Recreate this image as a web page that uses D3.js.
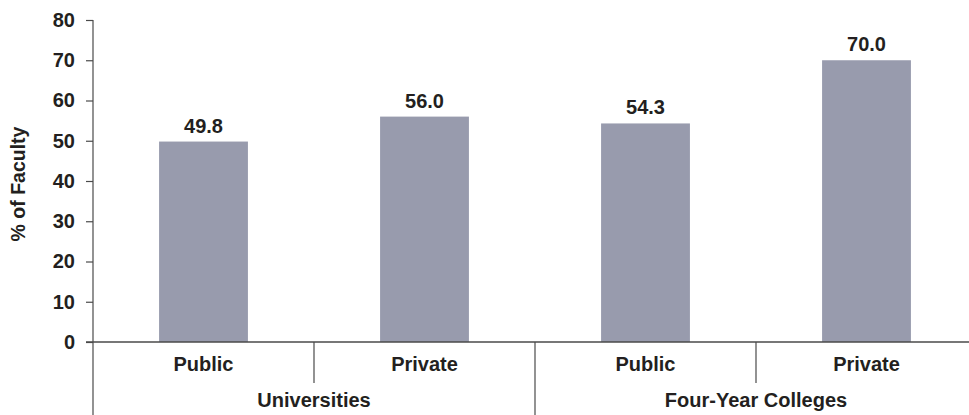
<!DOCTYPE html>
<html>
<head>
<meta charset="utf-8">
<script src="https://cdn.jsdelivr.net/npm/d3@7"></script>
<style>
  html, body { margin: 0; padding: 0; background: #fff; }
  svg { display: block; }
  text { font-family: "Liberation Sans", Arial, sans-serif; font-weight: bold; fill: #231f20; }
</style>
</head>
<body>
<svg id="chart" width="969" height="415"></svg>
<script>
const categories = ["Public", "Private", "Public", "Private"];
const groups = ["Universities", "Four-Year Colleges"];
const groupOf = [0, 0, 1, 1];
const values = [49.8, 56.0, 54.3, 70.0];
const yTicks = [0, 10, 20, 30, 40, 50, 60, 70, 80];
const yTitle = "% of Faculty";

const svg = d3.select("#chart");
const x0 = 93, yTop = 20, yBottom = 342, band = 221;
const fs = 20;

const keys = categories.map((c, i) => i);
const x = d3.scaleBand().domain(keys).range([x0, x0 + band * keys.length]).padding(0);
const y = d3.scaleLinear().domain([0, 80]).range([yBottom, yTop]);

const axisColor = "#4a4a4a";

// bars
const barW = x.bandwidth() * 0.402;
svg.append("g").selectAll("rect").data(values).join("rect")
  .attr("x", (d, i) => x(i) + x.bandwidth() / 2 - barW / 2)
  .attr("y", d => y(d))
  .attr("width", barW)
  .attr("height", d => y(0) - y(d))
  .attr("fill", "#989bad");

// value labels
svg.append("g").selectAll("text").data(values).join("text")
  .attr("x", (d, i) => x(i) + x.bandwidth() / 2)
  .attr("y", d => y(d) - 9)
  .attr("text-anchor", "middle")
  .attr("font-size", fs)
  .text(d => d.toFixed(1));

// y axis
const yAxis = d3.axisLeft(y).tickValues(yTicks).tickSize(7).tickPadding(11).tickFormat(d3.format("d"));
const gy = svg.append("g").attr("transform", `translate(${x0},0)`).call(yAxis);
gy.select(".domain").remove();
gy.selectAll(".tick line").attr("stroke", axisColor).attr("stroke-width", 1.2);
gy.selectAll(".tick text").attr("font-size", fs).attr("font-family", "Liberation Sans, Arial, sans-serif")
  .attr("font-weight", "bold").attr("fill", "#231f20");
svg.append("line").attr("x1", x0).attr("x2", x0).attr("y1", yTop).attr("y2", 415)
  .attr("stroke", axisColor).attr("stroke-width", 1.2);

// x axis line
svg.append("line").attr("x1", 86).attr("x2", 969).attr("y1", y(0)).attr("y2", y(0))
  .attr("stroke", axisColor).attr("stroke-width", 1.5);

// category labels
svg.append("g").selectAll("text").data(categories).join("text")
  .attr("x", (d, i) => x(i) + x.bandwidth() / 2)
  .attr("y", y(0) + 29)
  .attr("text-anchor", "middle")
  .attr("font-size", fs)
  .text(d => d);

// separators inside groups (short) and between groups (long)
keys.forEach(i => {
  if (i === 0) return;
  const newGroup = groupOf[i] !== groupOf[i - 1];
  svg.append("line")
    .attr("x1", x(i)).attr("x2", x(i))
    .attr("y1", y(0)).attr("y2", newGroup ? 415 : 383)
    .attr("stroke", axisColor).attr("stroke-width", 1.2);
});

// group labels
groups.forEach((g, gi) => {
  const idx = keys.filter(i => groupOf[i] === gi);
  const cx = (x(idx[0]) + x(idx[idx.length - 1]) + x.bandwidth()) / 2;
  svg.append("text").attr("x", cx).attr("y", y(0) + 65)
    .attr("text-anchor", "middle").attr("font-size", fs).text(g);
});

// y title
svg.append("text")
  .attr("transform", `translate(25,${(yTop + yBottom) / 2 + 3}) rotate(-90)`)
  .attr("text-anchor", "middle")
  .attr("font-size", 19.5)
  .text(yTitle);
</script>
</body>
</html>
